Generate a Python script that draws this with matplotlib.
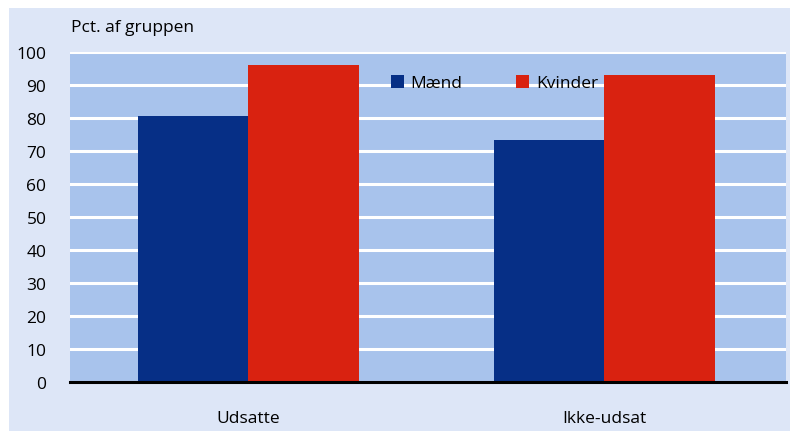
import matplotlib
matplotlib.use("Agg")
import matplotlib.pyplot as plt
import numpy as np
from matplotlib.patches import Rectangle

categories = ["Udsatte", "Ikke-udsat"]
maend = [80.6, 73.3]
kvinder = [96.1, 93.0]
series_names = ["Mænd", "Kvinder"]
yticks = [0, 10, 20, 30, 40, 50, 60, 70, 80, 90, 100]

plt.rcParams['font.family'] = ['Liberation Sans Narrow', 'Open Sans', 'DejaVu Sans']
FS = 12.5

W, H = 799, 435
fig = plt.figure(figsize=(W/100, H/100), dpi=100)
fig.patch.set_facecolor('white')
fig.patches.append(Rectangle((9/W, 3/H), (790-9)/W, (426-3)/H, transform=fig.transFigure,
                             facecolor='#dde6f7', edgecolor='none', zorder=-10))

ax = fig.add_axes([70/W, 1 - 383/H, (786-70)/W, (383-53)/H])
ax.set_zorder(1)
ax.set_facecolor('#a8c3ec')
x = np.arange(len(categories))
w = 0.31
ax.bar(x - w/2, maend, w, color='#062f86', label=series_names[0], zorder=3)
ax.bar(x + w/2, kvinder, w, color='#d92210', label=series_names[1], zorder=3)

ax.set_xlim(-0.5, 1.51)
ax.set_ylim(0, 100)
ax.set_yticks(yticks)
ax.set_yticklabels([str(v) for v in yticks], fontsize=FS)
ax.set_xticks(x)
ax.set_xticklabels(categories, fontsize=FS)
ax.tick_params(axis='both', length=0)
ax.tick_params(axis='y', pad=17)
ax.tick_params(axis='x', pad=20)
ax.yaxis.grid(True, color='white', linewidth=2.2, zorder=1)
ax.set_axisbelow(True)
for s in ['top', 'right', 'left']:
    ax.spines[s].set_visible(False)
ax.spines['bottom'].set_color('black')
ax.spines['bottom'].set_linewidth(2.2)
ax.spines['bottom'].set_zorder(5)

fig.text(71/W, 1 - 28/H, "Pct. af gruppen", fontsize=FS, va='center', ha='left')

leg = ax.legend(loc='center left', bbox_to_anchor=(375/W, 1 - 84/H), bbox_transform=fig.transFigure,
                ncol=2, frameon=False, fontsize=FS, handlelength=0.75, handleheight=0.75,
                handletextpad=0.4, columnspacing=3.1)
leg.set_zorder(2)

fig.savefig("out.png", dpi=100, facecolor=fig.get_facecolor())
